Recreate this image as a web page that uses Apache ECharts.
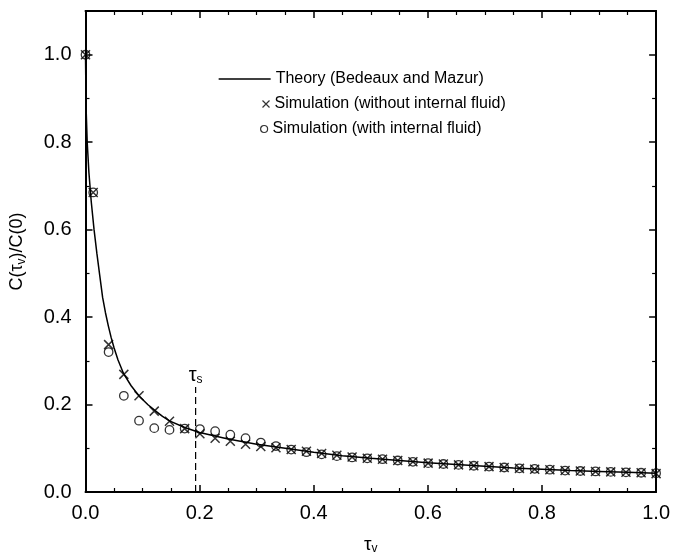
<!DOCTYPE html>
<html>
<head>
<meta charset="utf-8">
<script src="https://cdn.jsdelivr.net/npm/echarts@6/dist/echarts.min.js"></script>
<style>html,body{margin:0;padding:0;background:#fff;}#c{width:673px;height:560px;}</style>
</head>
<body>
<div id="c"></div>
<script>
// ---- data ----
const tSim = [0, 0.0135, 0.0405, 0.0672, 0.0938, 0.1205, 0.1472, 0.1738, 0.2005, 0.2272, 0.2538, 0.2805, 0.3072, 0.3338, 0.3605, 0.3872, 0.4138, 0.4405, 0.4672, 0.4938, 0.5205, 0.5472, 0.5738, 0.6005, 0.6272, 0.6538, 0.6805, 0.7072, 0.7338, 0.7605, 0.7872, 0.8138, 0.8405, 0.8672, 0.8938, 0.9205, 0.9472, 0.9738, 1.0];
const simNoFluid = [1.0, 0.685, 0.337, 0.269, 0.220, 0.185, 0.162, 0.145, 0.133, 0.123, 0.116, 0.109, 0.104, 0.101, 0.097, 0.093, 0.088, 0.084, 0.080, 0.077, 0.075, 0.072, 0.069, 0.066, 0.064, 0.062, 0.060, 0.058, 0.056, 0.054, 0.052, 0.051, 0.049, 0.048, 0.047, 0.046, 0.045, 0.044, 0.042];
const simFluid = [1.0, 0.685, 0.320, 0.220, 0.163, 0.146, 0.142, 0.145, 0.144, 0.139, 0.131, 0.123, 0.113, 0.105, 0.097, 0.091, 0.086, 0.082, 0.079, 0.077, 0.075, 0.072, 0.069, 0.066, 0.064, 0.062, 0.060, 0.058, 0.056, 0.054, 0.053, 0.051, 0.049, 0.048, 0.047, 0.046, 0.045, 0.044, 0.043];
const tTheory = [0, 0.001, 0.003, 0.006, 0.010, 0.015, 0.020, 0.025, 0.030, 0.035, 0.040, 0.045, 0.050, 0.057, 0.067, 0.080, 0.095, 0.110, 0.122, 0.135, 0.148, 0.175, 0.200, 0.250, 0.300, 0.350, 0.400, 0.450, 0.500, 0.550, 0.600, 0.650, 0.700, 0.750, 0.800, 0.850, 0.900, 0.950, 1.000];
const vTheory = [1.0, 0.88, 0.80, 0.73, 0.665, 0.60, 0.545, 0.495, 0.445, 0.41, 0.38, 0.353, 0.33, 0.302, 0.27, 0.243, 0.218, 0.199, 0.186, 0.173, 0.162, 0.147, 0.136, 0.121, 0.109, 0.100, 0.091, 0.083, 0.077, 0.072, 0.067, 0.063, 0.059, 0.055, 0.052, 0.049, 0.047, 0.045, 0.043];
const tauS = 0.193;
const tauSTop = 0.24;
const xTicks = ['0.0', '0.2', '0.4', '0.6', '0.8', '1.0'];
const seriesNames = ['Theory (Bedeaux and Mazur)', 'Simulation (without internal fluid)', 'Simulation (with internal fluid)'];

const FONT = '"Liberation Sans", Arial, Helvetica, sans-serif';
const zip = (a, b) => a.map((v, i) => [v, b[i]]);
const CROSS = 'path://M0,0L10,10M10,0L0,10';

const axisCommon = {
  type: 'value', min: 0, max: 1, interval: 0.2,
  axisLine: { show: true, onZero: false, lineStyle: { color: '#000', width: 2 } },
  axisTick: { show: true, inside: true, length: 7, lineStyle: { color: '#000', width: 1.5 } },
  minorTick: { show: true, splitNumber: 4, length: 4, lineStyle: { color: '#000', width: 1.2 } },
  splitLine: { show: false }, minorSplitLine: { show: false }
};
const yCommon = Object.assign({}, axisCommon, {
  max: 1.1,
  minorTick: { show: true, splitNumber: 2, length: 4, lineStyle: { color: '#000', width: 1.2 } }
});

const chart = echarts.init(document.getElementById('c'), null, { renderer: 'canvas' });
chart.setOption({
  backgroundColor: '#fff',
  animation: false,
  textStyle: { fontFamily: FONT, color: '#000' },
  grid: { left: 83, right: 14, top: 11, bottom: 61, containLabel: false },
  legend: [
    { data: [seriesNames[0]], left: 213, top: 66, orient: 'vertical', itemWidth: 52, itemHeight: 10,
      itemStyle: { opacity: 0 }, lineStyle: { color: '#000', width: 1.3 },
      textStyle: { fontSize: 16, color: '#000', fontFamily: FONT } },
    { data: [{ name: seriesNames[1], icon: CROSS }], left: 255, top: 91, itemWidth: 7, itemHeight: 7,
      itemStyle: { color: 'none', borderColor: '#000', borderWidth: 1.2 },
      textStyle: { fontSize: 16, color: '#000', fontFamily: FONT } },
    { data: [{ name: seriesNames[2], icon: 'circle' }], left: 255, top: 116, itemWidth: 7, itemHeight: 7,
      itemStyle: { color: '#fff', borderColor: '#000', borderWidth: 1.2 },
      textStyle: { fontSize: 16, color: '#000', fontFamily: FONT } }
  ],
  xAxis: [
    Object.assign({}, axisCommon, {
      position: 'bottom',
      axisLabel: { fontSize: 20, color: '#000', margin: 11, fontFamily: FONT,
        formatter: v => xTicks[Math.round(v / 0.2)] },
      name: '{a|τ}{b|v}', nameLocation: 'middle', nameGap: 42,
      nameTextStyle: { rich: { a: { fontSize: 19, color: '#000', fontFamily: FONT }, b: { fontSize: 12, color: '#000', fontFamily: FONT, padding: [9, 0, 0, 0] } } }
    }),
    Object.assign({}, axisCommon, { position: 'top', axisLabel: { show: false } })
  ],
  yAxis: [
    Object.assign({}, yCommon, {
      position: 'left',
      axisLabel: { fontSize: 20, color: '#000', margin: 14, fontFamily: FONT, showMaxLabel: false,
        formatter: v => v.toFixed(1) },
      name: '{a|C(τ}{b|v}{a|)/C(0)}', nameLocation: 'middle', nameGap: 58,
      nameTextStyle: { rich: { a: { fontSize: 18, color: '#000', fontFamily: FONT }, b: { fontSize: 12, color: '#000', fontFamily: FONT, padding: [9, 0, 0, 0] } } }
    }),
    Object.assign({}, yCommon, { position: 'right', axisLabel: { show: false } })
  ],
  series: [
    { name: seriesNames[0], type: 'line', data: zip(tTheory, vTheory), symbol: 'none',
      lineStyle: { color: '#000', width: 1.5 }, itemStyle: { color: '#000' }, z: 3 },
    { name: seriesNames[1], type: 'scatter', data: zip(tSim, simNoFluid), symbol: CROSS, symbolSize: 9,
      itemStyle: { color: 'none', borderColor: '#000', borderWidth: 1.5 }, z: 4 },
    { name: seriesNames[2], type: 'scatter', data: zip(tSim, simFluid), symbol: 'circle', symbolSize: 8.5,
      itemStyle: { color: 'rgba(255,255,255,0)', borderColor: '#000', borderWidth: 1.3 }, z: 4 },
    { name: 'tauS', type: 'line', symbol: 'circle', symbolSize: 0.1, showSymbol: true, silent: true,
      itemStyle: { color: 'rgba(0,0,0,0)' },
      data: [[tauS, 0], { value: [tauS, tauSTop],
        label: { show: true, position: 'top', distance: 1, formatter: '{a|τ}{b|s}',
          rich: { a: { fontSize: 20, color: '#000', fontFamily: FONT }, b: { fontSize: 12, color: '#000', fontFamily: FONT, padding: [10, 0, 0, 0] } } } }],
      lineStyle: { color: '#000', width: 1.2, type: [7, 4] }, z: 2 }
  ]
});
</script>
</body>
</html>
